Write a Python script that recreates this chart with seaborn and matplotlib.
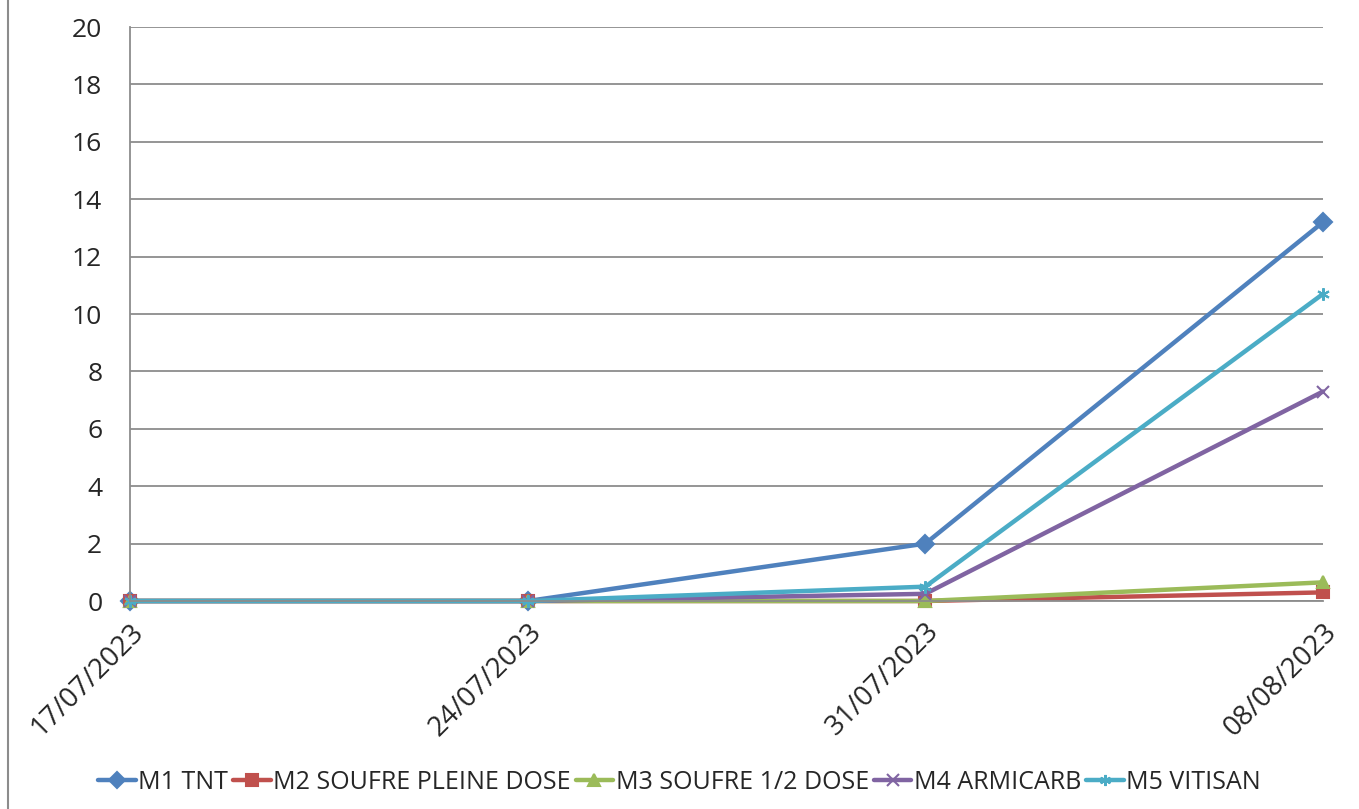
import matplotlib
matplotlib.use("Agg")
import matplotlib.pyplot as plt
from matplotlib.lines import Line2D
import seaborn as sns
import pandas as pd

dates = ["17/07/2023", "24/07/2023", "31/07/2023", "08/08/2023"]
series_names = ["M1 TNT", "M2 SOUFRE PLEINE DOSE", "M3 SOUFRE 1/2 DOSE",
                "M4 ARMICARB", "M5 VITISAN"]
m1_tnt = [0, 0, 2.0, 13.2]
m2_soufre_pleine = [0, 0, 0, 0.3]
m3_soufre_demi = [0, 0, 0, 0.65]
m4_armicarb = [0, 0, 0.25, 7.3]
m5_vitisan = [0, 0, 0.5, 10.7]

COLORS = ["#4F81BD", "#C0504D", "#9BBB59", "#8064A2", "#4BACC6"]
MARKERS = ["D", "s", "^", "x", (6, 2, 0)]

sns.set_theme(style="white")
plt.rcParams["font.family"] = ["Open Sans", "DejaVu Sans"]

rows = []
for name, vals in zip(series_names, [m1_tnt, m2_soufre_pleine, m3_soufre_demi,
                                     m4_armicarb, m5_vitisan]):
    for i, v in enumerate(vals):
        rows.append({"x": i, "Serie": name, "val": v})
df = pd.DataFrame(rows)

fig = plt.figure(figsize=(13.59, 8.09), dpi=100)
ax = fig.add_axes([0.0957, 0.2571, 0.8778, 0.7095])

for name, c, m in zip(series_names, COLORS, MARKERS):
    sub = df[df["Serie"] == name]
    sns.lineplot(
        data=sub, x="x", y="val", color=c, marker=m,
        linewidth=3.2, markersize=9, markeredgewidth=1.5,
        markeredgecolor=c, ax=ax, clip_on=False,
    )

ax.set_xlim(0, 3)
ax.set_ylim(0, 20)
ax.set_yticks(range(0, 21, 2))
ax.set_xticks(range(len(dates)))
ax.set_xticklabels(dates, rotation=45, ha="right", rotation_mode="anchor", fontsize=20)
ax.tick_params(axis="y", labelsize=19, length=0, pad=20)
ax.tick_params(axis="x", length=0, pad=12)
ax.set_xlabel("")
ax.set_ylabel("")
ax.grid(axis="y", color="#8c8c8c", linewidth=1.3)
ax.set_axisbelow(True)
for side in ["top", "right"]:
    ax.spines[side].set_visible(False)
ax.spines["left"].set_color("#8c8c8c")
ax.spines["bottom"].set_color("#8c8c8c")
ax.spines["left"].set_linewidth(1.3)
ax.spines["bottom"].set_linewidth(1.3)

handles = [Line2D([0], [0], color=c, marker=m, linewidth=3.2, markersize=8,
                  markeredgecolor=c, markeredgewidth=1.5)
           for c, m in zip(COLORS, MARKERS)]
fig.legend(handles, series_names, loc="center", bbox_to_anchor=(0.5, 0.033),
           ncol=5, frameon=False, fontsize=18, handlelength=1.5,
           handletextpad=0.1, columnspacing=0.2)

# bordure gauche de la zone du graphique
fig.add_artist(Line2D([0.006, 0.006], [0.0, 1.0], color="#8c8c8c", linewidth=1.5,
                      transform=fig.transFigure))

fig.savefig("out.png", dpi=100)
plt.close(fig)
